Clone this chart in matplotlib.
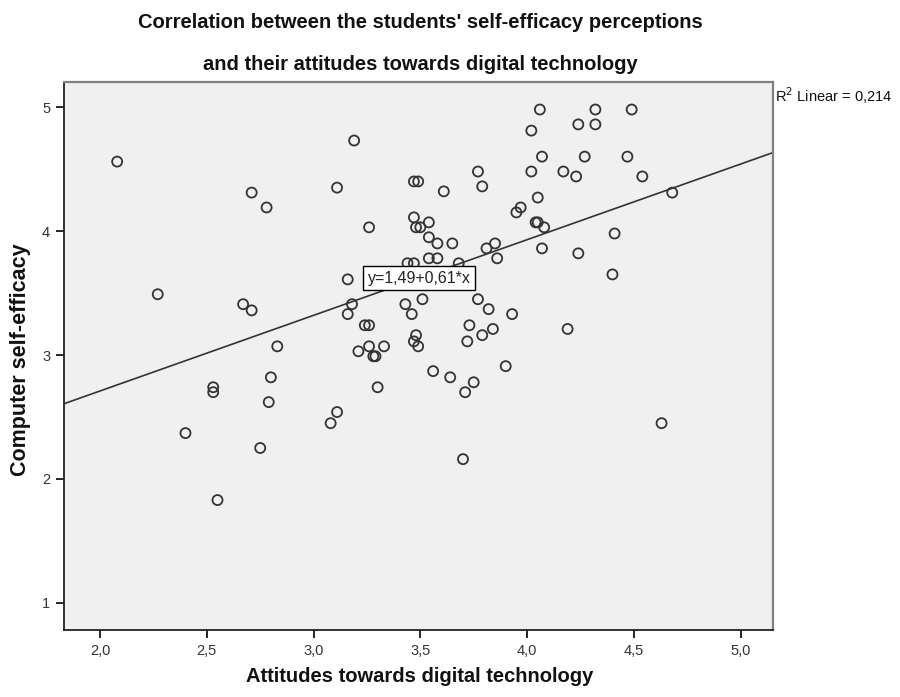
import numpy as np
import matplotlib
matplotlib.use('Agg')
import matplotlib.pyplot as plt

plt.rcParams['font.family'] = ['Liberation Sans', 'DejaVu Sans']

# attitudes towards digital technology (x) / computer self-efficacy (y)
attitudes = [2.08, 2.71, 2.78, 3.11, 2.27, 2.67, 2.71, 2.40, 2.53, 2.53,
             2.55, 2.83, 2.80, 2.79, 2.75, 3.11, 3.08, 4.06, 4.32, 4.02,
             4.24, 4.32, 3.19, 4.07, 4.27, 3.47, 3.49, 3.61, 3.77, 3.79,
             4.02, 4.17, 4.23, 4.05, 3.95, 3.97, 3.26, 3.47, 3.48, 3.50,
             3.54, 3.54, 3.58, 3.65, 3.81, 3.85, 3.86, 4.04, 4.05, 4.08,
             4.07, 4.24, 4.49, 4.47, 4.54, 4.68, 4.41, 4.40, 3.44, 3.47,
             3.54, 3.58, 3.68, 3.16, 3.18, 3.16, 3.43, 3.46, 3.51, 3.77,
             3.82, 3.93, 3.24, 3.26, 3.73, 3.84, 4.19, 3.79, 3.72, 3.48,
             3.47, 3.49, 3.26, 3.33, 3.21, 3.28, 3.29, 3.56, 3.64, 3.75,
             3.71, 3.90, 3.30, 3.70, 4.63]
self_efficacy = [4.56, 4.31, 4.19, 4.35, 3.49, 3.41, 3.36, 2.37, 2.74, 2.70,
                 1.83, 3.07, 2.82, 2.62, 2.25, 2.54, 2.45, 4.98, 4.98, 4.81,
                 4.86, 4.86, 4.73, 4.60, 4.60, 4.40, 4.40, 4.32, 4.48, 4.36,
                 4.48, 4.48, 4.44, 4.27, 4.15, 4.19, 4.03, 4.11, 4.03, 4.03,
                 4.07, 3.95, 3.90, 3.90, 3.86, 3.90, 3.78, 4.07, 4.07, 4.03,
                 3.86, 3.82, 4.98, 4.60, 4.44, 4.31, 3.98, 3.65, 3.74, 3.74,
                 3.78, 3.78, 3.74, 3.61, 3.41, 3.33, 3.41, 3.33, 3.45, 3.45,
                 3.37, 3.33, 3.24, 3.24, 3.24, 3.21, 3.21, 3.16, 3.11, 3.16,
                 3.11, 3.07, 3.07, 3.07, 3.03, 2.99, 2.99, 2.87, 2.82, 2.78,
                 2.70, 2.91, 2.74, 2.16, 2.45]

intercept = 1.49
slope = 0.61
r2 = 0.214
x_ticks = [2.0, 2.5, 3.0, 3.5, 4.0, 4.5, 5.0]
y_ticks = [1, 2, 3, 4, 5]

fig = plt.figure(figsize=(9, 6.97), dpi=100)
ax = fig.add_axes([64/900, 1 - 630/697, 709/900, 548/697])
ax.set_facecolor('#f0f0f0')

ax.scatter(attitudes, self_efficacy, s=52, facecolors='none',
           edgecolors='#333333', linewidths=1.3, zorder=3)

xlim = (1.831, 5.152)
ylim = (0.782, 5.202)
xs = np.array(xlim)
ax.plot(xs, intercept + slope * xs, color='#333333', lw=1.2, zorder=2)
ax.set_xlim(xlim)
ax.set_ylim(ylim)

eq = 'y=%s+%s*x' % (f'{intercept:.2f}'.replace('.', ','), f'{slope:.2f}'.replace('.', ','))
ax.text(3.494, 3.621, eq, fontsize=11.5, ha='center', va='center',
        color='#222222', zorder=4,
        bbox=dict(boxstyle='square,pad=0.3', fc='white', ec='black', lw=1))

ax.set_xticks(x_ticks)
ax.set_xticklabels([f'{t:.1f}'.replace('.', ',') for t in x_ticks])
ax.set_yticks(y_ticks)
ax.set_yticklabels([str(t) for t in y_ticks])
ax.tick_params(direction='out', length=6, width=1.2, labelsize=10.5,
               labelcolor='#333333', pad=4)
for s in ['left', 'bottom']:
    ax.spines[s].set_color('#222222')
    ax.spines[s].set_linewidth(1.3)
for s in ['top', 'right']:
    ax.spines[s].set_color('#808080')
    ax.spines[s].set_linewidth(1.6)

fig.text(420/900, 1 - 22/697, "Correlation between the students' self-efficacy perceptions",
         ha='center', va='center', fontsize=14.5, fontweight='bold', color='#111111')
fig.text(420/900, 1 - 64/697, "and their attitudes towards digital technology",
         ha='center', va='center', fontsize=14.5, fontweight='bold', color='#111111')
fig.text(420/900, 1 - 676/697, "Attitudes towards digital technology",
         ha='center', va='center', fontsize=14.5, fontweight='bold', color='#111111')
fig.text(21/900, 1 - 360/697, "Computer self-efficacy", rotation=90,
         ha='center', va='center', fontsize=15.5, fontweight='bold', color='#111111')
fig.text(775/900, 1 - 96/697, "R$^2$ Linear = 0,%d" % round(r2 * 1000), ha='left', va='center',
         fontsize=10.5, color='#111111')

fig.savefig('out.png', dpi=100)
